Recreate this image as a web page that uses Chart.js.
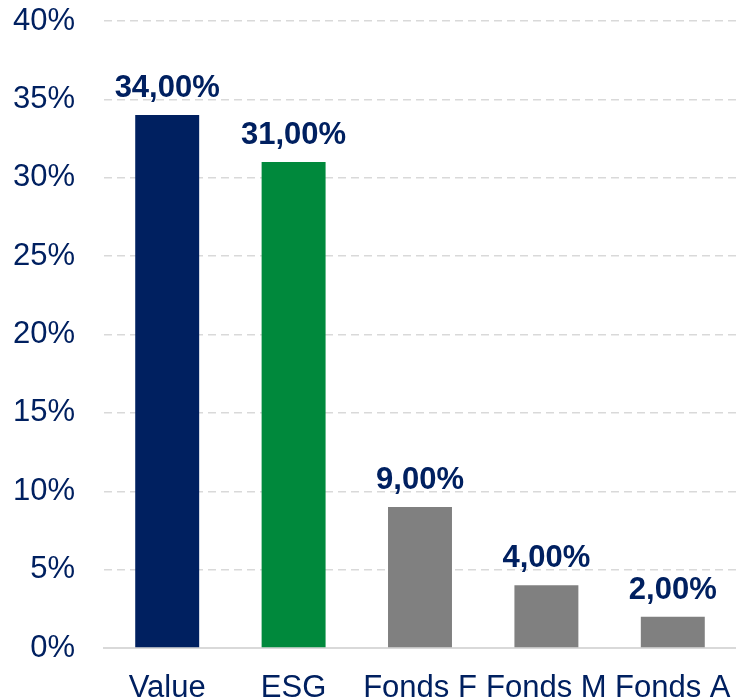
<!DOCTYPE html>
<html>
<head>
<meta charset="utf-8">
<script src="https://cdn.jsdelivr.net/npm/chart.js@4.4.1/dist/chart.umd.min.js"></script>
<style>
  html, body { margin: 0; padding: 0; background: #fff; }
  #wrap { width: 736px; height: 699px; }
</style>
</head>
<body>
<div id="wrap"><canvas id="chart"></canvas></div>
<script>
// --- data ---
const categories = ['Value', 'ESG', 'Fonds F', 'Fonds M', 'Fonds A'];
const shares = [34, 31, 9, 4, 2];
const barColors = ['#002060', '#00893C', '#808080', '#808080', '#808080'];
const yTicks = [0, 5, 10, 15, 20, 25, 30, 35, 40];

const textColor = '#002060';
const fontFamily = '"Liberation Sans", Arial, sans-serif';

// draws "34,00%" etc. above each bar
const valueLabels = {
    id: 'valueLabels',
    afterDatasetsDraw(chart) {
        const ctx = chart.ctx;
        const meta = chart.getDatasetMeta(0);
        ctx.save();
        ctx.font = `bold 31px ${fontFamily}`;
        ctx.fillStyle = textColor;
        ctx.textAlign = 'center';
        ctx.textBaseline = 'alphabetic';
        meta.data.forEach((bar, i) => {
            const txt = shares[i].toFixed(2).replace('.', ',') + '%';
            ctx.fillText(txt, bar.x, bar.y - 18);
        });
        ctx.restore();
    }
};

new Chart(document.getElementById('chart'), {
    type: 'bar',
    data: {
        labels: categories,
        datasets: [{
            data: shares,
            backgroundColor: barColors,
            borderWidth: 0,
            barPercentage: 0.506,
            categoryPercentage: 1
        }]
    },
    options: {
        responsive: true,
        maintainAspectRatio: false,
        animation: false,
        layout: { padding: 0 },
        plugins: { legend: { display: false }, tooltip: { enabled: false } },
        scales: {
            x: {
                grid: { display: false },
                border: { display: true, color: '#D9D9D9', width: 2 },
                ticks: {
                    color: textColor,
                    font: { family: fontFamily, size: 31 },
                    padding: 14,
                    maxRotation: 0,
                    autoSkip: false
                },
                afterFit(scale) {
                    scale.height = 51;
                    scale.paddingLeft = 0;
                    scale.paddingRight = 0;
                }
            },
            y: {
                min: 0,
                max: 40,
                afterBuildTicks(scale) { scale.ticks = yTicks.map(v => ({ value: v })); },
                grid: {
                    drawTicks: false,
                    color: c => c.tick && c.tick.value === 0 ? 'rgba(0,0,0,0)' : '#D9D9D9',
                    lineWidth: 1.5
                },
                border: { display: false, dash: [8, 5] },
                ticks: {
                    color: textColor,
                    font: { family: fontFamily, size: 31 },
                    padding: 29,
                    callback: v => v + '%'
                },
                afterFit(scale) {
                    scale.width = 104;
                    scale.paddingTop = 21;
                    scale.paddingBottom = 0;
                }
            }
        }
    },
    plugins: [valueLabels]
});
</script>
</body>
</html>
